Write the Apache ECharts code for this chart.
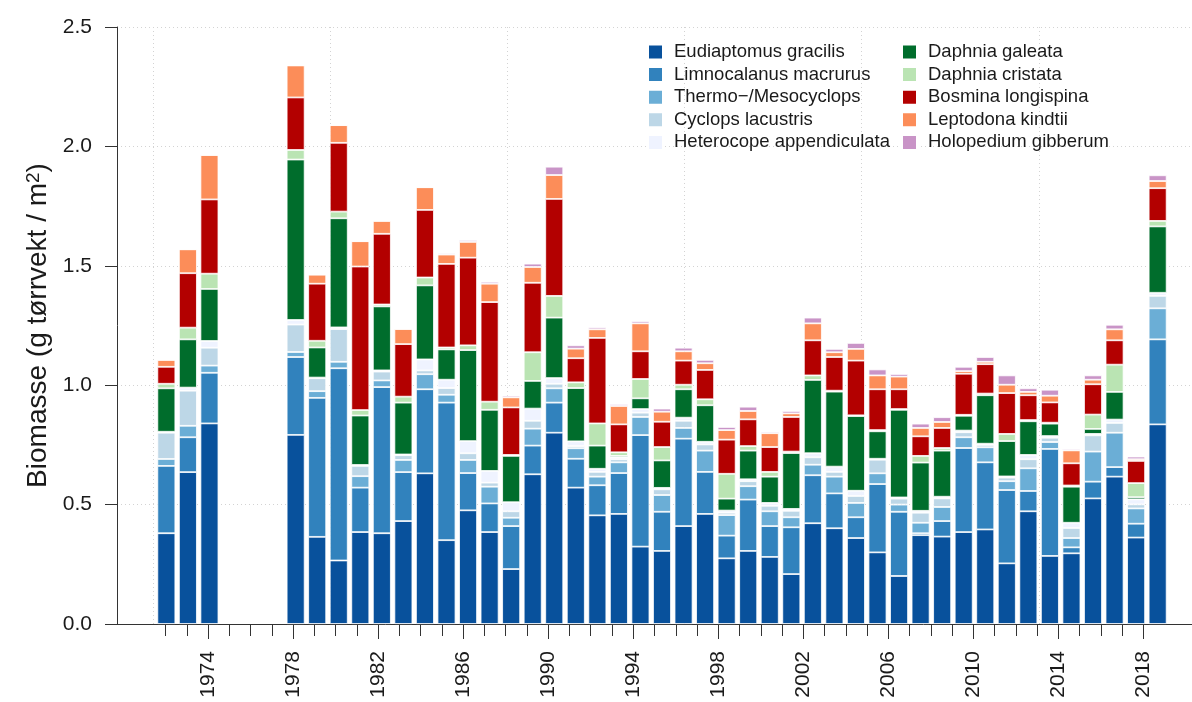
<!DOCTYPE html>
<html>
<head>
<meta charset="utf-8">
<title>Biomasse dyreplankton</title>
<script src="https://cdn.jsdelivr.net/npm/echarts@6/dist/echarts.min.js"></script>
<style>
  html, body { margin: 0; padding: 0; background: #fff; }
  #chart { width: 1192px; height: 702px; }
</style>
</head>
<body>
<div id="chart"></div>
<script>
// år 1972-2018, ingen prøver 1975-1977
const years = [1972, 1973, 1974, 1975, 1976, 1977, 1978, 1979, 1980, 1981, 1982, 1983, 1984, 1985,
  1986, 1987, 1988, 1989, 1990, 1991, 1992, 1993, 1994, 1995, 1996, 1997, 1998, 1999, 2000, 2001,
  2002, 2003, 2004, 2005, 2006, 2007, 2008, 2009, 2010, 2011, 2012, 2013, 2014, 2015, 2016, 2017, 2018]
const labelYears = [1974, 1978, 1982, 1986, 1990, 1994, 1998, 2002, 2006, 2010, 2014, 2018]
const yTicks = [0, 0.5, 1.0, 1.5, 2.0, 2.5]

const eudiaptomus = [0.380, 0.636, 0.840, null, null, null, 0.792, 0.365, 0.266, 0.385, 0.380, 0.431, 0.631, 0.351,
  0.476, 0.385, 0.230, 0.627, 0.801, 0.571, 0.455, 0.461, 0.324, 0.306, 0.410, 0.461, 0.275, 0.306, 0.281, 0.209,
  0.422, 0.401, 0.360, 0.300, 0.201, 0.372, 0.366, 0.385, 0.396, 0.254, 0.472, 0.285, 0.296, 0.526, 0.617, 0.362, 0.836]
const limnocalanus = [0.282, 0.146, 0.212, null, null, null, 0.326, 0.582, 0.805, 0.186, 0.612, 0.205, 0.352, 0.576,
  0.156, 0.120, 0.180, 0.120, 0.126, 0.121, 0.126, 0.171, 0.467, 0.164, 0.366, 0.176, 0.095, 0.215, 0.129, 0.196,
  0.201, 0.146, 0.087, 0.286, 0.269, 0.008, 0.065, 0.352, 0.281, 0.307, 0.085, 0.448, 0.025, 0.070, 0.040, 0.058, 0.356]
const thermoMeso = [0.029, 0.048, 0.030, null, null, null, 0.021, 0.028, 0.027, 0.048, 0.028, 0.051, 0.063, 0.033,
  0.055, 0.070, 0.035, 0.071, 0.060, 0.044, 0.036, 0.045, 0.076, 0.070, 0.045, 0.089, 0.086, 0.056, 0.062, 0.042,
  0.044, 0.070, 0.060, 0.045, 0.030, 0.044, 0.059, 0.045, 0.063, 0.037, 0.095, 0.029, 0.039, 0.126, 0.144, 0.064, 0.130]
const cyclops = [0.110, 0.147, 0.075, null, null, null, 0.115, 0.054, 0.137, 0.043, 0.037, 0.020, 0.016, 0.028,
  0.028, 0.017, 0.027, 0.033, 0.019, 0.009, 0.020, 0.013, 0.018, 0.024, 0.030, 0.026, 0.010, 0.021, 0.023, 0.027,
  0.031, 0.020, 0.029, 0.057, 0.025, 0.042, 0.036, 0.021, 0.010, 0.015, 0.038, 0.018, 0.042, 0.068, 0.041, 0.017, 0.052]
const heterocope = [0.004, 0.013, 0.028, null, null, null, 0.019, 0.003, 0.007, 0.004, 0.005, 0.003, 0.046, 0.035,
  0.051, 0.049, 0.038, 0.051, 0.024, 0.020, 0.013, 0.008, 0.015, 0.006, 0.013, 0.011, 0.009, 0.008, 0.012, 0.008,
  0.017, 0.022, 0.022, 0.004, 0.005, 0.008, 0.007, 0.007, 0.005, 0.005, 0.018, 0.007, 0.022, 0.006, 0.014, 0.021, 0.013]
const dGaleata = [0.182, 0.202, 0.218, null, null, null, 0.672, 0.126, 0.457, 0.207, 0.268, 0.217, 0.310, 0.127,
  0.381, 0.256, 0.194, 0.116, 0.253, 0.223, 0.097, 0.006, 0.045, 0.115, 0.119, 0.153, 0.050, 0.120, 0.110, 0.234,
  0.307, 0.314, 0.313, 0.115, 0.367, 0.202, 0.193, 0.062, 0.203, 0.148, 0.141, 0.052, 0.151, 0.021, 0.116, 0.009, 0.278]
const dCristata = [0.019, 0.049, 0.064, null, null, null, 0.040, 0.028, 0.028, 0.023, 0.008, 0.025, 0.033, 0.008,
  0.020, 0.034, 0.004, 0.120, 0.091, 0.024, 0.093, 0.015, 0.081, 0.056, 0.019, 0.025, 0.104, 0.019, 0.020, 0.006,
  0.019, 0.004, 0.003, 0.005, 0.003, 0.028, 0.011, 0.004, 0.007, 0.030, 0.005, 0.004, 0.005, 0.060, 0.114, 0.059, 0.023]
const bosmina = [0.071, 0.228, 0.311, null, null, null, 0.220, 0.239, 0.288, 0.601, 0.296, 0.220, 0.283, 0.350,
  0.367, 0.417, 0.199, 0.291, 0.406, 0.101, 0.358, 0.117, 0.116, 0.106, 0.101, 0.123, 0.143, 0.112, 0.104, 0.145,
  0.147, 0.141, 0.229, 0.171, 0.083, 0.082, 0.084, 0.172, 0.123, 0.171, 0.104, 0.085, 0.093, 0.127, 0.102, 0.093, 0.137]
const leptodora = [0.029, 0.100, 0.186, null, null, null, 0.134, 0.038, 0.074, 0.106, 0.054, 0.063, 0.095, 0.039,
  0.066, 0.077, 0.042, 0.066, 0.100, 0.040, 0.036, 0.077, 0.117, 0.042, 0.039, 0.028, 0.040, 0.035, 0.058, 0.015,
  0.071, 0.020, 0.049, 0.058, 0.053, 0.035, 0.025, 0.011, 0.010, 0.035, 0.014, 0.028, 0.054, 0.019, 0.046, 0.007, 0.030]
const holopedium = [0, 0, 0, null, null, null, 0, 0, 0, 0, 0, 0.003, 0, 0.005,
  0.008, 0.008, 0.007, 0.014, 0.035, 0.014, 0.008, 0.008, 0.009, 0.013, 0.015, 0.014, 0.013, 0.018, 0.006, 0.010,
  0.024, 0.014, 0.025, 0.025, 0.011, 0.018, 0.020, 0.018, 0.020, 0.039, 0.015, 0.025, 0.006, 0.018, 0.019, 0.011, 0.024]

const species = [
  { name: 'Eudiaptomus gracilis', values: eudiaptomus, color: '#08519C' },
  { name: 'Limnocalanus macrurus', values: limnocalanus, color: '#3182BD' },
  { name: 'Thermo\u2212/Mesocyclops', values: thermoMeso, color: '#6BAED6' },
  { name: 'Cyclops lacustris', values: cyclops, color: '#BDD7E7' },
  { name: 'Heterocope appendiculata', values: heterocope, color: '#EFF3FF' },
  { name: 'Daphnia galeata', values: dGaleata, color: '#006D2C' },
  { name: 'Daphnia cristata', values: dCristata, color: '#BAE4B3' },
  { name: 'Bosmina longispina', values: bosmina, color: '#B30000' },
  { name: 'Leptodona kindtii', values: leptodora, color: '#FC8D59' },
  { name: 'Holopedium gibberum', values: holopedium, color: '#C994C7' }
]

// barplot-enheter (bredde 1, space 0.2) -> år, for å få rutenettet som i R
const unitToYear = u => 1972 + (u - 0.7) / 1.2
const gridUnits = [0, 10, 20, 30, 40, 50]
const xMin = unitToYear(-2.048)
const xMax = unitToYear(58.648)

// plottområdet (px)
const plotLeft = 117
const plotRight = 1207
const plotTop = 27
const plotBottom = 624
const W = 1192
const H = 702
const pxPerYear = (plotRight - plotLeft) / (xMax - xMin)
const barGridLeft = plotLeft + (years[0] - 0.5 - xMin) * pxPerYear
const barGridRight = plotLeft + (years[years.length - 1] + 0.5 - xMin) * pxPerYear

const font = "'Liberation Sans', Arial, sans-serif"
const ink = '#1a1a1a'
const axisCol = '#333'
const gridLine = { show: true, lineStyle: { color: '#d3d3d3', type: [1, 3], width: 1 } }

let chart = echarts.init(document.getElementById('chart'), null, { renderer: 'canvas' })

let series = species.map(s => ({
  name: s.name,
  type: 'bar',
  stack: 'total',
  xAxisIndex: 3,
  yAxisIndex: 1,
  barWidth: '83.3%',
  itemStyle: { color: s.color, borderColor: '#fff', borderWidth: 0.8 },
  data: s.values
}))

let legendBase = {
  orient: 'vertical',
  icon: 'rect',
  padding: 0,
  itemWidth: 15,
  itemHeight: 15,
  itemGap: 2.6,
  top: 42,
  textStyle: { fontFamily: font, fontSize: 18.5, color: ink, lineHeight: 20, padding: [0, 0, 0, 6] }
}

let option = {
  animation: false,
  backgroundColor: '#fff',
  color: species.map(s => s.color),
  legend: [
    Object.assign({}, legendBase, { left: 647, data: species.slice(0, 5).map(s => s.name) }),
    Object.assign({}, legendBase, { left: 901, data: species.slice(5).map(s => s.name) })
  ],
  grid: [
    { left: plotLeft, right: W - plotRight, top: plotTop, bottom: H - plotBottom, containLabel: false },
    { left: barGridLeft, right: W - barGridRight, top: plotTop, bottom: H - plotBottom, containLabel: false }
  ],
  xAxis: [
    {
      type: 'value', gridIndex: 0, min: xMin, max: xMax, position: 'bottom',
      axisLine: { show: true, onZero: false, lineStyle: { color: axisCol, width: 1 } },
      axisTick: { show: true, customValues: labelYears, length: 15, lineStyle: { color: axisCol } },
      axisLabel: {
        customValues: labelYears, rotate: 90, margin: 27, fontSize: 21, fontFamily: font, color: ink,
        formatter: v => String(Math.round(v))
      },
      splitLine: { show: false }
    },
    {
      type: 'value', gridIndex: 0, min: xMin, max: xMax, position: 'bottom',
      axisLine: { show: false },
      axisTick: { show: true, customValues: years, length: 12, lineStyle: { color: axisCol } },
      axisLabel: { show: false },
      splitLine: { show: false }
    },
    {
      type: 'value', gridIndex: 0, min: xMin, max: xMax, position: 'bottom',
      axisLine: { show: false },
      axisTick: { show: false, customValues: gridUnits.map(unitToYear) },
      axisLabel: { show: false },
      splitLine: gridLine
    },
    {
      type: 'category', gridIndex: 1, data: years.map(String), boundaryGap: true,
      axisLine: { show: false }, axisTick: { show: false }, axisLabel: { show: false },
      splitLine: { show: false }
    }
  ],
  yAxis: [
    {
      type: 'value', gridIndex: 0, min: 0, max: 2.5,
      axisLine: { show: true, lineStyle: { color: axisCol, width: 1 } },
      axisTick: { show: true, customValues: yTicks, length: 12, lineStyle: { color: axisCol } },
      axisLabel: {
        customValues: yTicks, margin: 25, fontSize: 21, fontFamily: font, color: ink,
        formatter: v => v.toFixed(1)
      },
      splitLine: gridLine,
      name: 'Biomasse (g tørrvekt / m{sup|2})',
      nameLocation: 'middle',
      nameGap: 64,
      nameTextStyle: {
        fontFamily: font, fontSize: 28, color: ink,
        rich: { sup: { fontFamily: font, fontSize: 19, color: ink, verticalAlign: 'top' } }
      }
    },
    {
      type: 'value', gridIndex: 1, min: 0, max: 2.5, show: false
    }
  ],
  series: series
}

chart.setOption(option)
</script>
</body>
</html>
